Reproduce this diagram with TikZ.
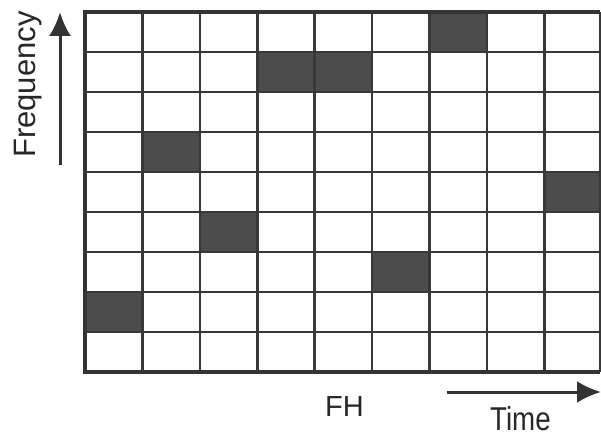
\documentclass[tikz,border=0pt]{standalone}
\usepackage{fontspec}
\setmainfont{Liberation Sans}
\usetikzlibrary{arrows.meta}
\begin{document}
\begin{tikzpicture}[x=1pt,y=-1pt,
  gridline/.style={draw=black!78, line width=2.6pt},
  border/.style={draw=black!80, line width=3.4pt},
  hop/.style={fill=black!70},
  axisarrow/.style={draw=black!80, line width=3pt, -{Latex[length=24pt,width=22pt]}},
  lbl/.style={inner sep=0pt, text=black!85}]
\useasboundingbox (0,0) rectangle (601,436);
\def\cw{57.4}
\def\rh{40}
% filled cells (col,row)
\foreach \c/\r in {6/0,3/1,4/1,1/3,8/4,2/5,5/6,0/7}
  \fill[hop] ({85+\c*\cw},{12+\r*\rh}) rectangle ({85+(\c+1)*\cw},{12+(\r+1)*\rh});
% grid lines
\foreach \i in {1,...,8}
  \draw[gridline] ({85+\i*\cw},12) -- ({85+\i*\cw},372);
\draw[gridline] (600,12) -- (600,372);
\foreach \j in {1,...,8}
  \draw[gridline] (85,{12+\j*\rh}) -- (600,{12+\j*\rh});
\draw[border] (600,12) -- (85,12) -- (85,372) -- (600,372);
% axes
\coordinate (f0) at (60,165);
\coordinate (f1) at (60,12);
\draw[axisarrow] (f0) -- (f1);
\coordinate (t0) at (447,392);
\coordinate (t1) at (601,392);
\draw[axisarrow] (t0) -- (t1);
% labels
\node[lbl, rotate=90, anchor=base west, font=\fontsize{31}{31}\selectfont] (freq) at (35,158) {Frequency};
\node[lbl, anchor=base west, font=\fontsize{29}{29}\selectfont] (fh) at (325,416) {FH};
\node[lbl, anchor=base west, xscale=0.84, font=\fontsize{33}{33}\selectfont] (time) at (490,430) {Time};
\end{tikzpicture}
\end{document}
